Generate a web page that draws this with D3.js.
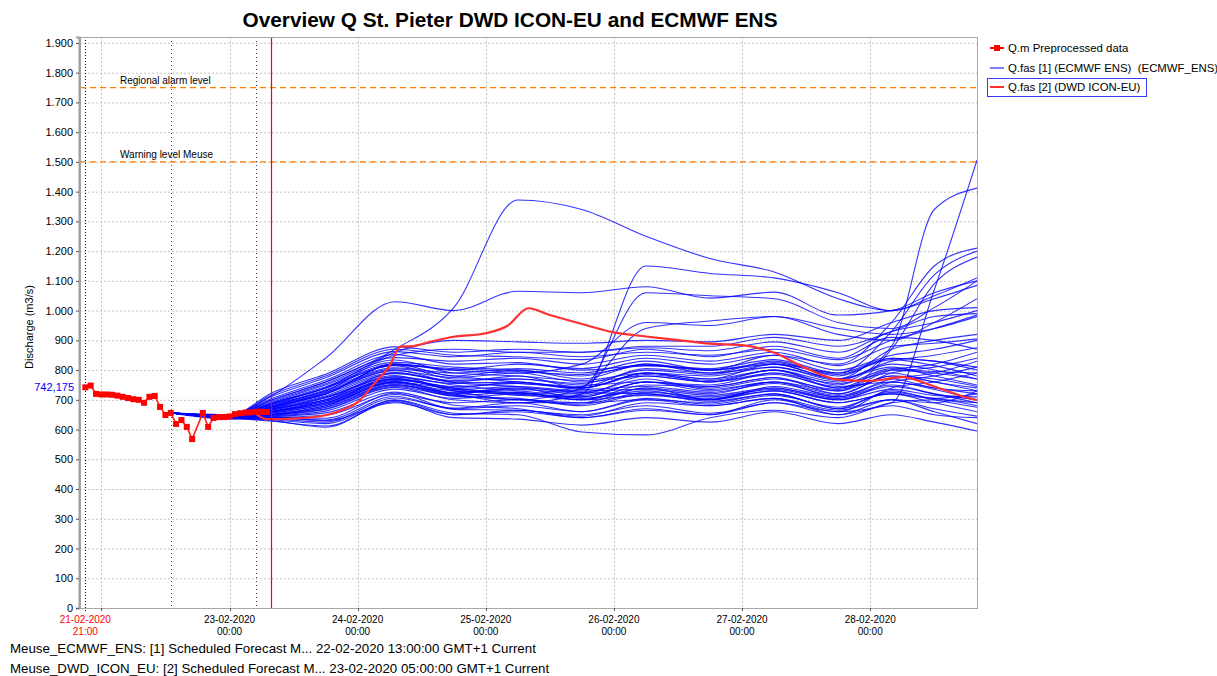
<!DOCTYPE html>
<html>
<head>
<meta charset="utf-8">
<script src="https://cdn.jsdelivr.net/npm/d3@7/dist/d3.min.js"></script>
<style>
body { margin: 0; background: #fff; }
text { font-family: "Liberation Sans", Arial, sans-serif; }
</style>
</head>
<body>
<svg width="1217" height="676"></svg>
<script>
var width = 1217, height = 676;
var margin = {left: 80, right: 240, top: 37, bottom: 68};
var parse = d3.timeParse("%Y-%m-%d %H:%M");

// observed (Q.m preprocessed), hourly
var obsTimes = ["2020-02-21 21:00", "2020-02-21 22:00", "2020-02-21 23:00", "2020-02-22 00:00", "2020-02-22 01:00",
    "2020-02-22 02:00", "2020-02-22 03:00", "2020-02-22 04:00", "2020-02-22 05:00", "2020-02-22 06:00",
    "2020-02-22 07:00", "2020-02-22 08:00", "2020-02-22 09:00", "2020-02-22 10:00", "2020-02-22 11:00",
    "2020-02-22 12:00", "2020-02-22 13:00", "2020-02-22 14:00", "2020-02-22 15:00", "2020-02-22 16:00",
    "2020-02-22 17:00", "2020-02-22 19:00", "2020-02-22 20:00", "2020-02-22 21:00", "2020-02-22 22:00",
    "2020-02-22 23:00", "2020-02-23 00:00", "2020-02-23 01:00", "2020-02-23 02:00", "2020-02-23 03:00",
    "2020-02-23 04:00", "2020-02-23 05:00", "2020-02-23 06:00", "2020-02-23 07:00"];
var obsValues = [742, 748, 720, 718, 718, 717, 714, 710, 706, 702, 700, 690, 710, 713, 676,
    649, 656, 619, 632, 609, 568, 656, 609, 639, 642, 642, 644, 652, 655, 657,
    658, 660, 660, 659];

// DWD ICON-EU forecast
var dwdTimes = ["2020-02-23 05:00", "2020-02-23 07:00", "2020-02-23 12:00", "2020-02-23 18:00", "2020-02-23 21:00",
    "2020-02-24 00:00", "2020-02-24 03:00", "2020-02-24 06:00", "2020-02-24 08:00", "2020-02-24 10:00",
    "2020-02-24 14:00", "2020-02-24 18:00", "2020-02-25 00:00", "2020-02-25 04:00", "2020-02-25 08:00",
    "2020-02-25 12:00", "2020-02-25 18:00", "2020-02-26 00:00", "2020-02-26 06:00", "2020-02-26 12:00",
    "2020-02-26 18:00", "2020-02-27 00:00", "2020-02-27 06:00", "2020-02-27 12:00", "2020-02-27 18:00",
    "2020-02-28 00:00", "2020-02-28 06:00", "2020-02-28 12:00", "2020-02-28 18:00", "2020-02-28 20:00"];
var dwdValues = [652, 635, 637, 648, 665, 692, 752, 815, 879, 880,
    897, 912, 924, 948, 1008, 985, 955, 927, 913, 901,
    889, 884, 858, 806, 768, 764, 776, 745, 708, 699];

// ECMWF ENS members
var ensTimes = ["2020-02-22 13:00", "2020-02-23 00:00", "2020-02-23 08:00", "2020-02-23 18:00", "2020-02-24 07:00",
    "2020-02-24 18:00", "2020-02-25 06:00", "2020-02-25 18:00", "2020-02-26 06:00", "2020-02-26 18:00",
    "2020-02-27 06:00", "2020-02-27 18:00", "2020-02-28 04:00", "2020-02-28 12:00", "2020-02-28 20:00"];
var ensMembers = [
    [656, 645, 700, 760, 870, 1010, 1372, 1340, 1250, 1175, 1130, 1040, 1000, 1050, 1110],
    [656, 650, 715, 840, 1030, 1000, 1065, 1060, 1080, 1042, 1062, 985, 1000, 1060, 1100],
    [656, 635, 640, 630, 690, 650, 660, 640, 670, 650, 700, 660, 690, 1070, 1506],
    [656, 640, 670, 700, 790, 760, 780, 740, 790, 760, 800, 760, 880, 1340, 1412],
    [656, 640, 680, 720, 820, 780, 800, 770, 820, 800, 850, 820, 960, 1150, 1210],
    [656, 642, 660, 690, 760, 740, 760, 740, 790, 770, 820, 790, 930, 1120, 1200],
    [656, 640, 650, 680, 760, 720, 690, 720, 1150, 1125, 1110, 1060, 1000, 1040, 1085],
    [656, 642, 660, 690, 770, 730, 700, 740, 1060, 1050, 1040, 960, 940, 1010, 1100],
    [656, 645, 690, 740, 860, 900, 895, 890, 900, 895, 920, 900, 960, 1000, 1010],
    [656, 643, 685, 730, 850, 870, 860, 860, 880, 880, 910, 880, 930, 980, 990],
    [656, 640, 675, 720, 820, 800, 790, 820, 960, 950, 980, 940, 920, 940, 980],
    [656, 642, 660, 700, 770, 735, 720, 745, 940, 965, 980, 920, 900, 960, 1040],
    [656, 640, 650, 670, 745, 715, 725, 700, 740, 720, 760, 730, 870, 1090, 1180],
    [656, 640, 628, 612, 694, 640, 635, 615, 640, 625, 660, 620, 650, 625, 595],
    [656, 638, 630, 608, 700, 655, 650, 592, 582, 640, 665, 640, 690, 700, 680],
    [656, 640, 636, 625, 706, 672, 690, 660, 700, 690, 720, 670, 700, 660, 620],
    [656, 641, 640, 632, 712, 668, 665, 650, 680, 655, 690, 650, 680, 650, 640],
    [656, 642, 641, 648, 718, 690, 700, 690, 740, 700, 730, 690, 720, 690, 660],
    [656, 640, 644, 656, 726, 682, 670, 640, 665, 650, 690, 660, 740, 760, 790],
    [656, 641, 646, 662, 736, 705, 720, 710, 760, 730, 760, 710, 750, 720, 700],
    [656, 642, 648, 668, 742, 700, 690, 690, 700, 680, 705, 650, 700, 690, 730],
    [656, 643, 650, 674, 748, 720, 740, 705, 730, 700, 740, 700, 760, 780, 810],
    [656, 640, 652, 680, 752, 712, 705, 680, 720, 695, 720, 670, 730, 700, 675],
    [656, 642, 655, 684, 758, 730, 725, 700, 750, 745, 775, 720, 780, 770, 745],
    [656, 643, 658, 690, 762, 722, 735, 720, 780, 760, 790, 740, 800, 790, 770],
    [656, 641, 660, 696, 768, 740, 720, 700, 715, 700, 745, 710, 760, 740, 720],
    [656, 642, 662, 700, 772, 745, 755, 740, 790, 770, 800, 740, 770, 740, 730],
    [656, 644, 665, 706, 778, 750, 730, 715, 760, 740, 770, 735, 800, 820, 860],
    [656, 643, 668, 710, 782, 735, 745, 730, 735, 715, 740, 705, 745, 720, 690],
    [656, 642, 670, 714, 788, 765, 770, 755, 800, 785, 820, 770, 830, 850, 875],
    [656, 644, 672, 720, 792, 758, 745, 725, 770, 735, 760, 720, 790, 810, 840],
    [656, 645, 675, 724, 798, 775, 790, 760, 780, 760, 785, 745, 760, 735, 700],
    [656, 643, 678, 730, 804, 780, 760, 745, 805, 790, 830, 780, 840, 830, 810],
    [656, 645, 680, 734, 808, 790, 805, 790, 830, 800, 820, 770, 810, 780, 750],
    [656, 646, 684, 740, 815, 770, 770, 750, 760, 745, 775, 730, 780, 760, 730],
    [656, 644, 688, 744, 820, 800, 820, 805, 840, 820, 850, 800, 850, 870, 900],
    [656, 646, 692, 750, 826, 810, 800, 780, 820, 790, 810, 765, 820, 800, 770],
    [656, 647, 696, 754, 834, 790, 780, 765, 790, 780, 810, 770, 870, 900, 920],
    [656, 646, 700, 760, 842, 830, 840, 820, 850, 830, 860, 815, 880, 890, 905],
    [656, 647, 705, 766, 852, 820, 825, 800, 815, 805, 835, 790, 840, 830, 800],
    [656, 648, 712, 774, 862, 845, 860, 845, 860, 850, 870, 835, 900, 940, 985],
    [656, 646, 718, 780, 870, 850, 845, 835, 870, 845, 880, 840, 910, 900, 870],
    [656, 647, 724, 786, 878, 860, 870, 860, 875, 865, 895, 860, 930, 960, 1000],
    [656, 640, 633, 620, 698, 650, 665, 645, 690, 680, 705, 665, 700, 670, 645],
    [656, 641, 650, 676, 750, 725, 740, 725, 720, 705, 730, 690, 720, 705, 720],
    [656, 643, 660, 695, 765, 740, 715, 710, 760, 750, 790, 755, 790, 760, 740],
    [656, 642, 666, 708, 776, 755, 760, 735, 745, 725, 755, 715, 770, 790, 830],
    [656, 644, 676, 726, 800, 760, 755, 740, 785, 765, 800, 750, 805, 795, 790],
    [656, 645, 686, 740, 816, 805, 795, 785, 815, 800, 825, 785, 835, 815, 780],
    [656, 641, 642, 638, 722, 670, 680, 660, 705, 685, 715, 675, 725, 705, 690],
    [656, 643, 656, 686, 756, 715, 700, 685, 725, 710, 735, 700, 735, 715, 710]
];

var thresholds = [1750, 1500];
var thresholdLabels = ["Regional alarm level", "Warning level Meuse"];
var yTicks = [0, 100, 200, 300, 400, 500, 600, 700, 800, 900, 1000, 1100, 1200, 1300, 1400, 1500, 1600, 1700, 1800, 1900];
var gridDays = ["2020-02-22 00:00", "2020-02-23 00:00", "2020-02-24 00:00", "2020-02-25 00:00", "2020-02-26 00:00", "2020-02-27 00:00", "2020-02-28 00:00"];
var labelDays = ["2020-02-23 00:00", "2020-02-24 00:00", "2020-02-25 00:00", "2020-02-26 00:00", "2020-02-27 00:00", "2020-02-28 00:00"];
var startTime = "2020-02-21 21:00";
var forecastT0s = ["2020-02-22 13:00", "2020-02-23 05:00"];
var systemTime = "2020-02-23 07:45";
var currentValue = 742.175;

var legendItems = ["Q.m Preprocessed data", "Q.fas [1] (ECMWF ENS)  (ECMWF_ENS)", "Q.fas [2] (DWD ICON-EU)"];
var footerLines = [
    "Meuse_ECMWF_ENS: [1] Scheduled Forecast M... 22-02-2020 13:00:00 GMT+1 Current",
    "Meuse_DWD_ICON_EU: [2] Scheduled Forecast M... 23-02-2020 05:00:00 GMT+1 Current"
];

var svg = d3.select("svg");
var x0 = margin.left, x1 = width - margin.right, y0 = height - margin.bottom, y1 = margin.top;

var x = d3.scaleTime()
    .domain([parse("2020-02-21 20:00"), parse("2020-02-28 20:00")])
    .range([x0, x1]);
var y = d3.scaleLinear()
    .domain([0, 1920])
    .range([y0, y1]);

svg.append("defs").append("clipPath").attr("id", "clip")
    .append("rect").attr("x", x0).attr("y", y1).attr("width", x1 - x0).attr("height", y0 - y1);

// title
svg.append("text")
    .attr("x", 510).attr("y", 27)
    .attr("text-anchor", "middle")
    .style("font-size", "20.8px").style("font-weight", "bold")
    .text("Overview Q St. Pieter DWD ICON-EU and ECMWF ENS");

// grid
var grid = svg.append("g");
grid.selectAll(".hg").data(yTicks.filter(function (d) { return d > 0; }))
    .enter().append("line")
    .attr("x1", x0).attr("x2", x1)
    .attr("y1", function (d) { return y(d) + 0.5; }).attr("y2", function (d) { return y(d) + 0.5; })
    .attr("stroke", "#c4c4c4").attr("stroke-dasharray", "2,2");
grid.selectAll(".vg").data(gridDays)
    .enter().append("line")
    .attr("x1", function (d) { return Math.round(x(parse(d))) + 0.5; })
    .attr("x2", function (d) { return Math.round(x(parse(d))) + 0.5; })
    .attr("y1", y1).attr("y2", y0)
    .attr("stroke", "#c4c4c4").attr("stroke-dasharray", "2,2");

// forecast T0 and start markers
svg.append("line")
    .attr("x1", Math.round(x(parse(startTime))) + 0.5).attr("x2", Math.round(x(parse(startTime))) + 0.5)
    .attr("y1", y1).attr("y2", y0 + 4)
    .attr("stroke", "#000").attr("stroke-dasharray", "1,2");
svg.selectAll(".t0").data(forecastT0s)
    .enter().append("line")
    .attr("x1", function (d) { return Math.round(x(parse(d))) + 0.5; })
    .attr("x2", function (d) { return Math.round(x(parse(d))) + 0.5; })
    .attr("y1", y1).attr("y2", y0)
    .attr("stroke", "#444").attr("stroke-dasharray", "1,3");

// thresholds
svg.selectAll(".thr").data(thresholds)
    .enter().append("line")
    .attr("x1", x0).attr("x2", x1)
    .attr("y1", function (d) { return y(d); }).attr("y2", function (d) { return y(d); })
    .attr("stroke", "#ff8000").attr("stroke-width", 1.2).attr("stroke-dasharray", "6,4");
svg.selectAll(".thrl").data(thresholds)
    .enter().append("text")
    .attr("x", 120).attr("y", function (d) { return y(d) - 4; })
    .style("font-size", "10px")
    .text(function (d, i) { return thresholdLabels[i]; });

var plot = svg.append("g").attr("clip-path", "url(#clip)");

var ensLine = d3.line()
    .x(function (d, i) { return x(parse(ensTimes[i])); })
    .y(function (d) { return y(d); })
    .curve(d3.curveMonotoneX);

plot.append("g").selectAll("path").data(ensMembers)
    .enter().append("path")
    .attr("d", ensLine)
    .attr("fill", "none")
    .attr("stroke", "#0000ff")
    .attr("stroke-opacity", 0.8)
    .attr("stroke-width", 1.1);

var dwdLine = d3.line()
    .x(function (d, i) { return x(parse(dwdTimes[i])); })
    .y(function (d) { return y(d); })
    .curve(d3.curveMonotoneX);

plot.append("path")
    .datum(dwdValues)
    .attr("d", dwdLine)
    .attr("fill", "none")
    .attr("stroke", "#ff3030")
    .attr("stroke-width", 2.2);

var obsLine = d3.line()
    .x(function (d, i) { return x(parse(obsTimes[i])); })
    .y(function (d) { return y(d); });

plot.append("path")
    .datum(obsValues)
    .attr("d", obsLine)
    .attr("fill", "none")
    .attr("stroke", "#ff2020")
    .attr("stroke-width", 1.6);

plot.append("g").selectAll("rect").data(obsValues)
    .enter().append("rect")
    .attr("x", function (d, i) { return x(parse(obsTimes[i])) - 3; })
    .attr("y", function (d) { return y(d) - 3; })
    .attr("width", 6).attr("height", 6)
    .attr("fill", "#ff0000");

// system time
svg.append("line")
    .attr("x1", Math.round(x(parse(systemTime))) + 0.5).attr("x2", Math.round(x(parse(systemTime))) + 0.5)
    .attr("y1", y1).attr("y2", y0)
    .attr("stroke", "#ff0000").attr("stroke-width", 1.2);

// plot frame
svg.append("rect")
    .attr("x", x0 + 0.5).attr("y", y1 + 0.5)
    .attr("width", x1 - x0).attr("height", y0 - y1)
    .attr("fill", "none").attr("stroke", "#a8a8a8");

// y axis
var yAxis = d3.axisLeft(y)
    .tickValues(yTicks)
    .tickSize(3)
    .tickPadding(3)
    .tickFormat(function (d) { return d3.format(",")(d).replace(/,/g, "."); });
var yg = svg.append("g").attr("transform", "translate(" + (x0 - 1) + ",0)").call(yAxis);
yg.select(".domain").attr("stroke", "#a0a0a0").attr("stroke-width", 2);
yg.selectAll(".tick line").attr("stroke", "#555");
yg.selectAll("text").style("font-size", "11px").style("font-family", "'Liberation Sans', Arial, sans-serif").attr("fill", "#000");

svg.append("text")
    .attr("x", 74).attr("y", y(currentValue) + 4)
    .attr("text-anchor", "end")
    .style("font-size", "11px")
    .attr("fill", "#0000ff")
    .text(d3.format(".3f")(currentValue).replace(".", ","));

svg.append("text")
    .attr("transform", "translate(33," + 327 + ")rotate(-90)")
    .attr("text-anchor", "middle")
    .style("font-size", "11px")
    .text("Discharge (m3/s)");

// x axis
var xg = svg.append("g");
xg.selectAll(".xt").data(gridDays)
    .enter().append("line")
    .attr("x1", function (d) { return Math.round(x(parse(d))) + 0.5; })
    .attr("x2", function (d) { return Math.round(x(parse(d))) + 0.5; })
    .attr("y1", y0).attr("y2", y0 + 3)
    .attr("stroke", "#555");
var xl = xg.selectAll(".xl").data(labelDays)
    .enter().append("text")
    .attr("text-anchor", "middle")
    .style("font-size", "10px");
xl.append("tspan")
    .attr("x", function (d) { return x(parse(d)); }).attr("y", 623)
    .text(function (d) { return d3.timeFormat("%d-%m-%Y")(parse(d)); });
xl.append("tspan")
    .attr("x", function (d) { return x(parse(d)); }).attr("y", 635)
    .text(function (d) { return d3.timeFormat("%H:%M")(parse(d)); });
var sl = xg.append("text").attr("text-anchor", "middle").style("font-size", "10px").attr("fill", "#ff0000");
sl.append("tspan").attr("x", x(parse(startTime))).attr("y", 623).text(d3.timeFormat("%d-%m-%Y")(parse(startTime)));
sl.append("tspan").attr("x", x(parse(startTime))).attr("y", 635).text(d3.timeFormat("%H:%M")(parse(startTime)));

// legend
var lg = svg.append("g").style("font-size", "11.4px");
var ly = [48, 68, 87];
var lcol = ["#ff0000", "#0000ff", "#ff3030"];
legendItems.forEach(function (t, i) {
    lg.append("line").attr("x1", 990).attr("x2", 1004).attr("y1", ly[i]).attr("y2", ly[i])
        .attr("stroke", lcol[i]).attr("stroke-width", i === 1 ? 1 : 2);
    if (i === 0) {
        lg.append("rect").attr("x", 994).attr("y", ly[i] - 3).attr("width", 6).attr("height", 6).attr("fill", "#ff0000");
    }
    lg.append("text").attr("x", 1008).attr("y", ly[i] + 4)
        .attr("xml:space", "preserve").style("white-space", "pre")
        .text(t);
});
lg.append("rect").attr("x", 987.5).attr("y", 78.5).attr("width", 159).attr("height", 18)
    .attr("fill", "none").attr("stroke", "#3a3aff");

// footer
svg.selectAll(".foot").data(footerLines)
    .enter().append("text")
    .attr("x", 10).attr("y", function (d, i) { return 653 + i * 20; })
    .style("font-size", "13.3px")
    .text(function (d) { return d; });
</script>
</body>
</html>
